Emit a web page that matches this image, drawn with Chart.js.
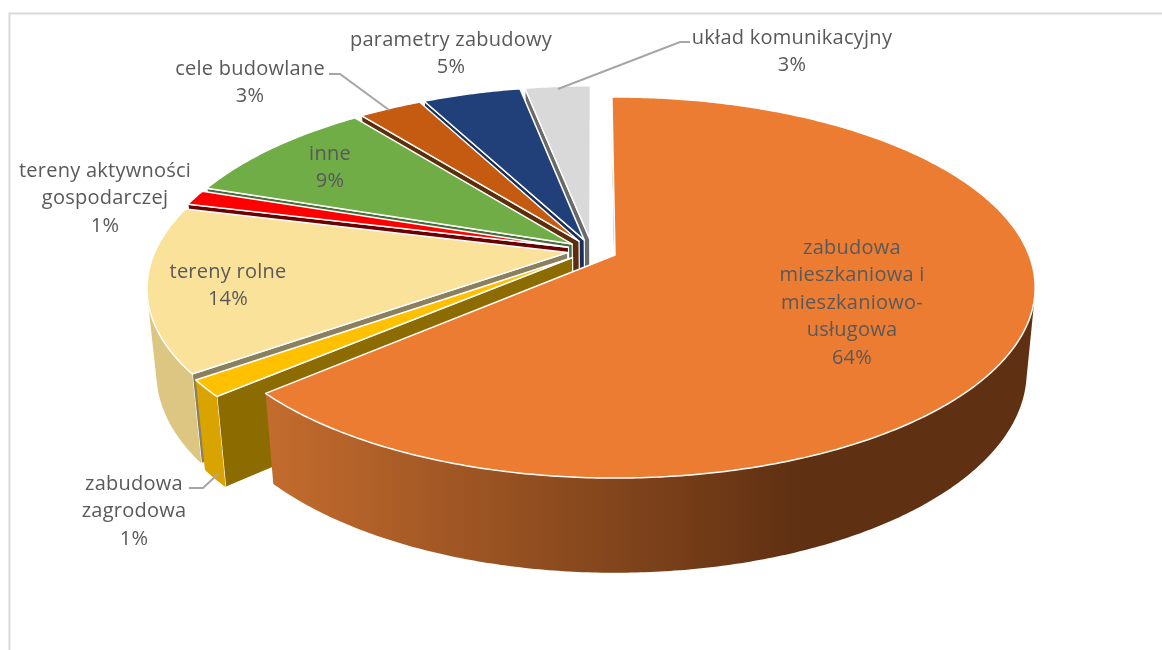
<!DOCTYPE html>
<html lang="pl"><head><meta charset="utf-8">
<style>html,body{margin:0;padding:0;background:#fff}canvas{display:block}</style>
<script src="https://cdn.jsdelivr.net/npm/chart.js@4"></script></head>
<body><canvas id="c" width="1162" height="650"></canvas>
<script>
const categories = ["zabudowa mieszkaniowa i mieszkaniowo-usługowa","zabudowa zagrodowa","tereny rolne","tereny aktywności gospodarczej","inne","cele budowlane","parametry zabudowy","układ komunikacyjny"];
const values = [63.6,1.45,14.05,1.3,9.2,2.9,4.5,3.0];
const sliceColors = ["#EC7C31","#FFC000","#FBE29A","#FF0000","#70AD47","#C55A11","#21407A","#D9D9D9"];
const rimColors = ["#5F3012","#D9A300","#DDC582","#A00000","#4F7A32","#8A3F0C","#172C55","#A0A0A0"];
const cutColors = ["#6E3A16","#8C6C00","#8A7F5F","#6B0000","#4A6B3A","#5C2E0C","#1A2F58","#6A6A6A"];
const labelLines = [["zabudowa","mieszkaniowa i","mieszkaniowo-","usługowa"],["zabudowa","zagrodowa"],["tereny rolne"],["tereny aktywności","gospodarczej"],["inne"],["cele budowlane"],["parametry zabudowy"],["układ komunikacyjny"]];
const labelPos = [[852,248],[134,484],[228,272],[105,171],[330,154],[250,69],[451,40],[792,38]];
const leaders = [[[329,74],[340,74],[389,110]],[[690,42],[680,42],[558,89]],[[189,488],[203,488],[218,474]]];

const CAM = {x:615,y:255,A:414,p:141.5,h:90,q:-0.1706,r:0.02};
const FONT = '20px "Open Sans"';

const pie3d = {
  id:'pie3d',
  beforeDatasetsDraw(chart){
    const ctx = chart.ctx, arcs = chart.getDatasetMeta(0).data;
    const mid = el => (el.startAngle+el.endAngle)/2;
    const e0 = arcs[0].options.offset/2/arcs[0].outerRadius;
    const o0 = [e0*Math.cos(mid(arcs[0])), e0*Math.sin(mid(arcs[0]))];
    const P = (u,v,z) => {
      const a=u-o0[0], b=v-o0[1], w=1+CAM.q*b+CAM.r*z;
      return [CAM.x+CAM.A*a/w, (CAM.y+CAM.p*b+CAM.h*z)/w];
    };
    const poly = pts => { ctx.beginPath(); pts.forEach((p,i)=> i?ctx.lineTo(p[0],p[1]):ctx.moveTo(p[0],p[1])); ctx.closePath(); };
    const area = q => { let s=0; q.forEach((p,i)=>{const n=q[(i+1)%q.length]; s+=p[0]*n[1]-n[0]*p[1];}); return s/2; };
    const order = arcs.map((el,i)=>i).slice(1).sort((a,b)=>Math.sin(mid(arcs[a]))-Math.sin(mid(arcs[b])));
    order.push(0);
    ctx.save();
    ctx.lineJoin='round';
    for(const i of order){
      const el = arcs[i], m = mid(el);
      const e = el.options.offset/2/el.outerRadius;
      const ox=e*Math.cos(m), oy=e*Math.sin(m);
      const pt=(a)=>[ox+Math.cos(a),oy+Math.sin(a)];
      const n=Math.max(2,Math.ceil((el.endAngle-el.startAngle)/0.01));
      const angs=[]; for(let k=0;k<=n;k++) angs.push(el.startAngle+(el.endAngle-el.startAngle)*k/n);
      const wall=(p,q)=>[P(p[0],p[1],0),P(q[0],q[1],0),P(q[0],q[1],1),P(p[0],p[1],1)];
      const s=pt(el.startAngle), t=pt(el.endAngle), c=[ox,oy];
      const w1=wall(c,s), w2=wall(t,c);
      let run=[];
      const runs=[];
      for(let k=0;k<n;k++){
        const q=wall(pt(angs[k]),pt(angs[k+1]));
        if(area(q)<0){run.push(angs[k]); if(k===n-1){run.push(angs[k+1]);runs.push(run);run=[];}}
        else if(run.length){run.push(angs[k]);runs.push(run);run=[];}
      }
      const paintWall=(q,col)=>{ if(area(q)<0){poly(q);ctx.fillStyle=col;ctx.fill();ctx.strokeStyle='#fff';ctx.lineWidth=1.2;ctx.stroke();} };
      paintWall(w1,cutColors[i]);
      paintWall(w2,cutColors[i]);
      for(const r of runs){
        const top=r.map(a=>{const p=pt(a);return P(p[0],p[1],0);});
        const bot=r.map(a=>{const p=pt(a);return P(p[0],p[1],1);}).reverse();
        poly(top.concat(bot));
        if(i===0){
          const g=ctx.createLinearGradient(265,0,800,0);
          g.addColorStop(0,'#C46C2E'); g.addColorStop(1,rimColors[0]);
          ctx.fillStyle=g;
        } else ctx.fillStyle=rimColors[i];
        ctx.fill();
      }
      const face=[P(c[0],c[1],0)].concat(angs.map(a=>{const p=pt(a);return P(p[0],p[1],0);}));
      poly(face);
      ctx.fillStyle=sliceColors[i]; ctx.fill();
      ctx.strokeStyle='#fff'; ctx.lineWidth=1.5; ctx.stroke();
    }
    ctx.restore();
    return false;
  },
  afterDraw(chart){
    const ctx=chart.ctx;
    ctx.save();
    ctx.strokeStyle='#A6A6A6'; ctx.lineWidth=2;
    leaders.forEach(l=>{ctx.beginPath();l.forEach((p,i)=>i?ctx.lineTo(p[0],p[1]):ctx.moveTo(p[0],p[1]));ctx.stroke();});
    ctx.fillStyle='#595959'; ctx.font=FONT; ctx.letterSpacing='0.25px'; ctx.textAlign='center'; ctx.textBaseline='middle';
    labelLines.forEach((ls,i)=>{
      const [x,y]=labelPos[i];
      ls.concat([Math.round(values[i])+'%']).forEach((t,k)=>ctx.fillText(t,x,y+k*27.5));
    });
    ctx.restore();
  },
  beforeDraw(chart){
    const ctx=chart.ctx;
    ctx.save(); ctx.fillStyle='#fff'; ctx.fillRect(0,0,1162,650);
    ctx.strokeStyle='#D9D9D9'; ctx.lineWidth=2;
    ctx.beginPath(); ctx.moveTo(9.5,650); ctx.lineTo(9.5,13.5); ctx.lineTo(1162,13.5); ctx.stroke();
    ctx.restore();
  }
};
new Chart(document.getElementById('c'),{
  type:'pie',
  data:{labels:categories,datasets:[{data:values,backgroundColor:sliceColors,offset:37,borderColor:'#fff',borderWidth:1}]},
  options:{responsive:false,animation:false,rotation:-0.5,plugins:{legend:{display:false},tooltip:{enabled:false}}},
  plugins:[pie3d]
});
</script></body></html>
